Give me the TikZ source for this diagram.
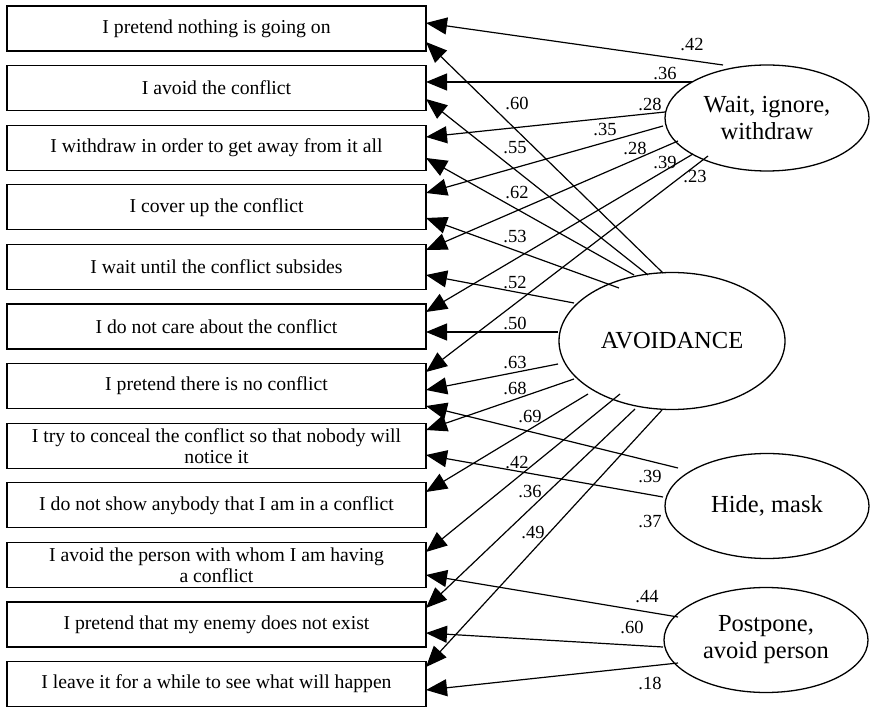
\documentclass[tikz,border=0pt]{standalone}
\usepackage{fontspec}
\setmainfont{Liberation Serif}
\usetikzlibrary{arrows.meta,shapes.geometric,calc}
\begin{document}
\begin{tikzpicture}[x=1pt,y=-1pt,
  box/.style={draw, line width=1.3pt, minimum width=419pt, minimum height=45pt, inner sep=0pt, outer sep=0pt, align=center, font=\fontsize{19.7}{21}\selectfont},
  lat/.style={draw, ellipse, line width=1.3pt, inner sep=0pt, outer sep=0pt, align=center, font=\fontsize{24.5}{27}\selectfont},
  load/.style={font=\fontsize{18.5}{20}\selectfont, inner sep=0pt},
  conn/.style={line width=1.2pt, -{Triangle[length=21pt,width=17pt]}}]
\useasboundingbox (0,0) rectangle (870,708);
% boxes
\node[box] (b1) at (216.5,28.5) {I pretend nothing is going on};
\node[box] (b2) at (216.5,88.1) {I avoid the conflict};
\node[box] (b3) at (216.5,147.7) {I withdraw in order to get away from it all};
\node[box] (b4) at (216.5,207.3) {I cover up the conflict};
\node[box] (b5) at (216.5,266.9) {I wait until the conflict subsides};
\node[box] (b6) at (216.5,326.5) {I do not care about the conflict};
\node[box] (b7) at (216.5,386.1) {I pretend there is no conflict};
\node[box] (b8) at (216.5,445.7) {I try to conceal the conflict so that nobody will\\notice it};
\node[box] (b9) at (216.5,505.3) {I do not show anybody that I am in a conflict};
\node[box] (b10) at (216.5,564.9) {I avoid the person with whom I am having\\a conflict};
\node[box] (b11) at (216.5,624.5) {I pretend that my enemy does not exist};
\node[box] (b12) at (216.5,684.1) {I leave it for a while to see what will happen};
% latent variables
\node[lat, minimum width=204pt, minimum height=106pt] (w) at (767,118) {Wait, ignore,\\withdraw};
\node[lat, minimum width=226pt, minimum height=137pt] (a) at (672,341) {AVOIDANCE};
\node[lat, minimum width=204pt, minimum height=105pt] (h) at (767,506) {Hide, mask};
\node[lat, minimum width=204pt, minimum height=105pt] (p) at (766,640) {Postpone,\\avoid person};
% Wait connectors
\draw[conn] ($(w)+(-44,-53)$) -- ([yshift=5.5pt]b1.east);
\draw[conn] ($(w)+(-75,-36)$) -- ([yshift=6.1pt]b2.east);
\draw[conn] ($(w)+(-102,-6)$) -- ([yshift=10.7pt]b3.east);
\draw[conn] ($(w)+(-104,8)$) -- ([yshift=14.3pt]b4.east);
\draw[conn] ($(w)+(-89,23)$) -- ([yshift=16.9pt]b5.east);
\draw[conn] ($(w)+(-74,36)$) -- ([yshift=14.5pt]b6.east);
\draw[conn] ($(w)+(-59,38)$) -- ([yshift=14.1pt]b7.east);
% AVOIDANCE connectors
\draw[conn] ($(a)+(-9,-68)$) -- ([yshift=-13.5pt]b1.east);
\draw[conn] ($(a)+(-24,-66)$) -- ([yshift=-10.9pt]b2.east);
\draw[conn] ($(a)+(-38,-66)$) -- ([yshift=-10.3pt]b3.east);
\draw[conn] ($(a)+(-53,-53)$) -- ([yshift=-10.7pt]b4.east);
\draw[conn] ($(a)+(-98,-38)$) -- ([yshift=-8.1pt]b5.east);
\draw[conn] ($(a)+(-114,-9)$) -- ([yshift=-5.5pt]b6.east);
\draw[conn] ($(a)+(-114,23)$) -- ([yshift=-3.9pt]b7.east);
\draw[conn] ($(a)+(-98,38)$) -- ([yshift=15.7pt]b8.east);
\draw[conn] ($(a)+(-84,53)$) -- ([yshift=13.3pt]b9.east);
\draw[conn] ($(a)+(-52,53)$) -- ([yshift=12.9pt]b10.east);
\draw[conn] ($(a)+(-37,68)$) -- ([yshift=16.5pt]b11.east);
\draw[conn] ($(a)+(-10,69)$) -- ([yshift=17.1pt]b12.east);
% Hide connectors
\draw[conn] ($(h)+(-89,-38)$) -- ([yshift=-19.9pt]b7.east);
\draw[conn] ($(h)+(-104,-9)$) -- ([yshift=-9.3pt]b8.east);
% Postpone connectors
\draw[conn] ($(p)+(-88,-23)$) -- ([yshift=-10.1pt]b10.east);
\draw[conn] ($(p)+(-103,7)$) -- ([yshift=-8.5pt]b11.east);
\draw[conn] ($(p)+(-88,23)$) -- ([yshift=-5.9pt]b12.east);
% loadings
\node[load] (lw1) at (692,45) {.42};
\node[load] (lw2) at (665,74) {.36};
\node[load] (lw3) at (650,104) {.28};
\node[load] (lw4) at (605,130) {.35};
\node[load] (lw5) at (635,148) {.28};
\node[load] (lw6) at (665,163) {.39};
\node[load] (lw7) at (695,177) {.23};
\node[load] (la1) at (517,103) {.60};
\node[load] (la2) at (515,148) {.55};
\node[load] (la3) at (517,193) {.62};
\node[load] (la4) at (515,237) {.53};
\node[load] (la5) at (515,283) {.52};
\node[load] (la6) at (515,323) {.50};
\node[load] (la7) at (515,363) {.63};
\node[load] (la8) at (515,388) {.68};
\node[load] (la9) at (530,417) {.69};
\node[load] (la10) at (517,463) {.42};
\node[load] (la11) at (530,492) {.36};
\node[load] (la12) at (533,533) {.49};
\node[load] (lh1) at (650,477) {.39};
\node[load] (lh2) at (650,522) {.37};
\node[load] (lp1) at (647,597) {.44};
\node[load] (lp2) at (632,627) {.60};
\node[load] (lp3) at (650,683) {.18};
\end{tikzpicture}
\end{document}
